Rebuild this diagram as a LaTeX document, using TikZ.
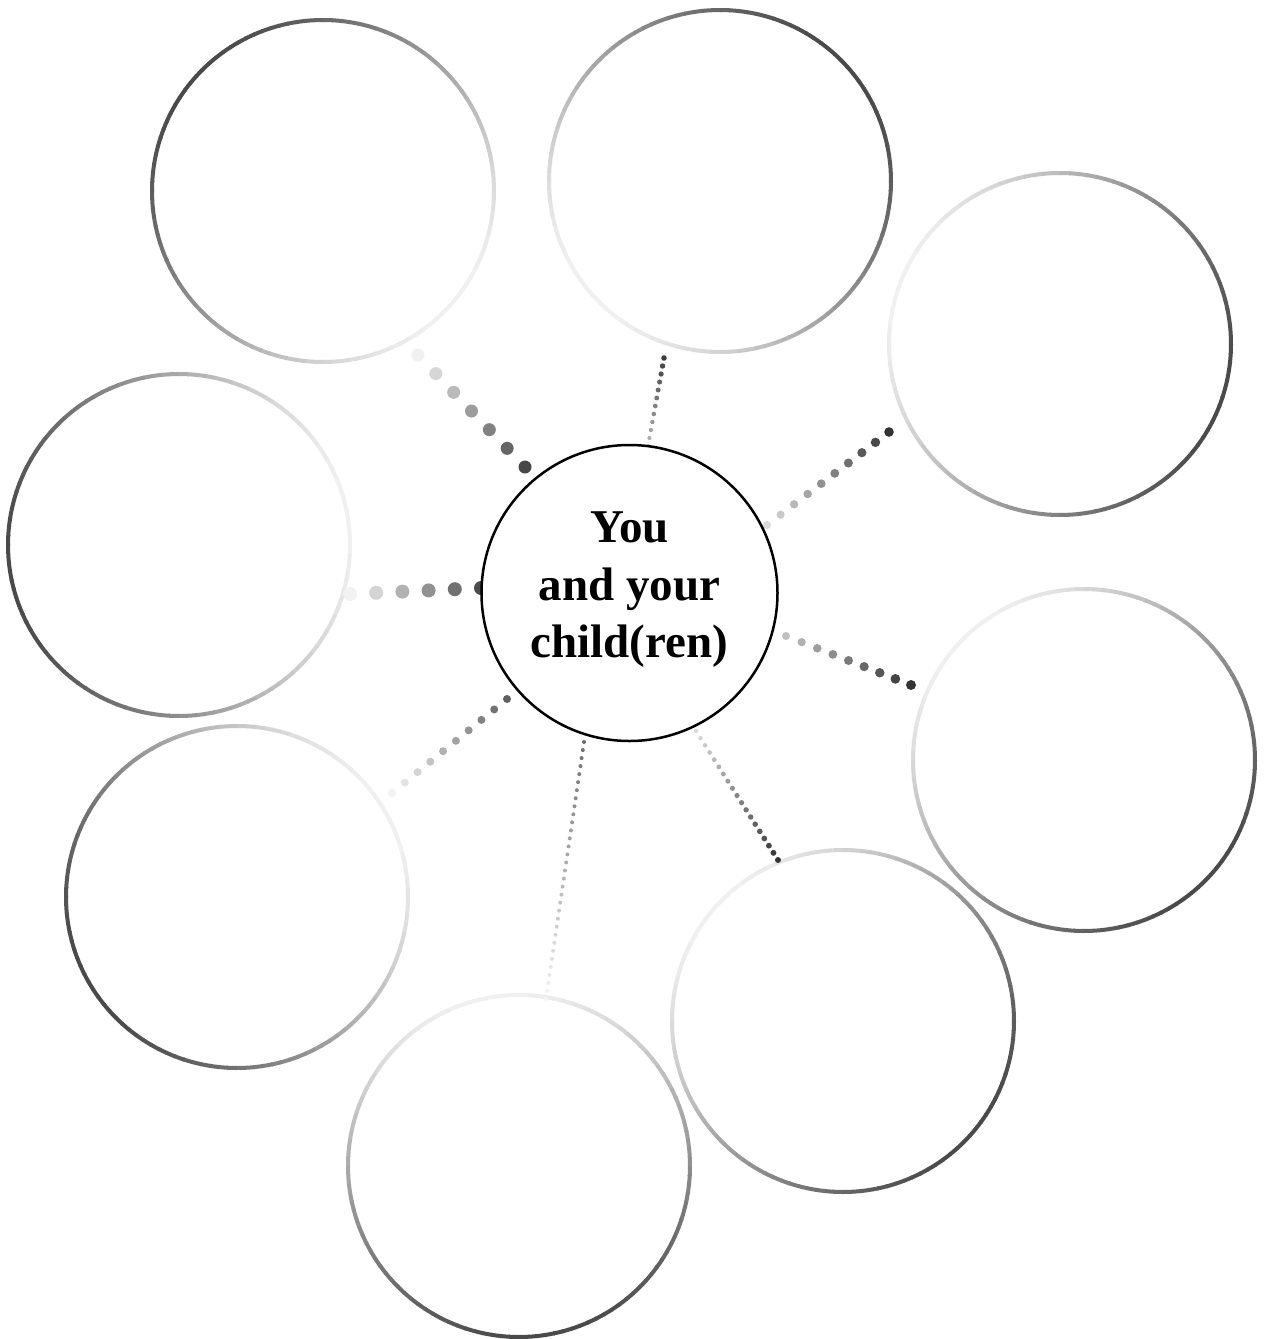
\documentclass[tikz,border=0pt]{standalone}
\usepackage{fontspec}
\setmainfont{Liberation Serif}
\usetikzlibrary{calc}
% gradient ring: node, dark angle (visual, degrees), radius
\newcommand\gradring[3]{%
  \foreach \a in {0,3,...,357}{%
    \pgfmathtruncatemacro\q{6+66*(1+cos(-\a-1.5-(#2)))/2}%
    \draw[ringline, draw=black!\q] ($(#1)+(\a:#3)$) arc[start angle=\a, end angle=\a+3.4, radius=#3];
  }%
}
% dotted connector: light end, dark end, n, r1, r2, q1, q2
\newcommand\dotline[7]{%
  \pgfmathtruncatemacro\nn{#3-1}%
  \foreach \i in {0,...,\nn}{%
    \pgfmathsetmacro\t{\i/\nn}%
    \pgfmathsetmacro\rr{#4+(#5-#4)*\t}%
    \pgfmathtruncatemacro\qq{#6+(#7-#6)*\t}%
    \fill[black!\qq] ($(#1)!\t!(#2)$) circle[radius=\rr];
  }%
}
\begin{document}
\begin{tikzpicture}[x=1pt,y=-1pt,
  ringline/.style={line width=4, line cap=butt},
  outer/.style={circle, minimum size=342, inner sep=0},
  hub/.style={circle, draw=black, line width=2.5, fill=white, minimum size=296, inner sep=0},
  hubtext/.style={align=center, inner sep=0, font=\bfseries\fontsize{47}{57.5}\selectfont}]
\useasboundingbox (0,0) rectangle (1264,1339);
\fill[white] (0,0) rectangle (1264,1339);

% outer circles
\node[outer] (c1) at (323,191) {};
\node[outer] (c2) at (720,181) {};
\node[outer] (c3) at (1060,344) {};
\node[outer] (c4) at (179,545) {};
\node[outer] (c5) at (1084,760) {};
\node[outer] (c6) at (237,897) {};
\node[outer] (c7) at (843,1021) {};
\node[outer] (c8) at (519,1166) {};

\gradring{c1}{140}{171}
\gradring{c2}{40}{171}
\gradring{c3}{-20}{171}
\gradring{c4}{190}{171}
\gradring{c5}{-45}{171}
\gradring{c6}{210}{171}
\gradring{c7}{-40}{171}
\gradring{c8}{-80}{171}

% connector end points
\coordinate (a1) at (418,355);  \coordinate (a2) at (525,467);
\coordinate (b1) at (648,446);  \coordinate (b2) at (664,358);
\coordinate (d1) at (767,525);  \coordinate (d2) at (889,432);
\coordinate (e1) at (350,594);  \coordinate (e2) at (481,588);
\coordinate (f1) at (786,636);  \coordinate (f2) at (911,685);
\coordinate (g1) at (392,793);  \coordinate (g2) at (507,699);
\coordinate (h1) at (546,999);  \coordinate (h2) at (584,742);
\coordinate (k1) at (696,731);  \coordinate (k2) at (778,860);

\dotline{a1}{a2}{7}{6.5}{6.5}{6}{72}
\dotline{b1}{b2}{12}{2}{2.8}{28}{76}
\dotline{d1}{d2}{10}{4}{4.8}{14}{80}
\dotline{e1}{e2}{6}{7}{7}{5}{70}
\dotline{f1}{f2}{9}{4}{5}{25}{80}
\dotline{g1}{g2}{10}{4}{4}{5}{62}
\dotline{h1}{h2}{33}{2}{2}{4}{58}
\dotline{k1}{k2}{19}{2.2}{3}{14}{80}

% central circle
\node[hub] (hub) at (629.5,593) {};
\node[hubtext] (label) at ($(hub.center)+(0,-3)$) {You\\and your\\child(ren)};
\end{tikzpicture}
\end{document}
